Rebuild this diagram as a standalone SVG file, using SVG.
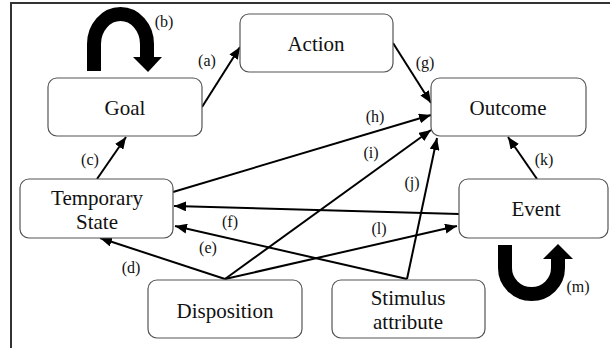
<svg xmlns="http://www.w3.org/2000/svg" width="610" height="348" viewBox="0 0 610 348" font-family="Liberation Serif, Times New Roman, Times, serif">
<style>
.box{fill:#fff;stroke:#555;stroke-width:1.2}
.nt{font-size:21px;fill:#111;text-anchor:middle}
.lb{font-size:16px;fill:#111;text-anchor:middle}
.ed{stroke:#000;stroke-width:2;fill:none;marker-end:url(#ah)}
.thick{stroke:#000;stroke-width:14;fill:none}
</style>
<defs>
<marker id="ah" markerUnits="userSpaceOnUse" markerWidth="12" markerHeight="10" refX="12" refY="5" orient="auto">
<path d="M0,0 L12,5 L0,10 z" fill="#000"/>
</marker>
</defs>
<rect width="610" height="348" fill="#fff"/>
<path d="M11,348 L11,3 L610,3" stroke="#333" stroke-width="2" fill="none"/>
<g id="connectors">
<line class="ed" x1="202" y1="107" x2="240" y2="47"/>
<line class="ed" x1="97" y1="179" x2="126" y2="137"/>
<line class="ed" x1="393" y1="43" x2="431" y2="103"/>
<line class="ed" x1="173" y1="192" x2="431" y2="115"/>
<line class="ed" x1="225" y1="279" x2="431" y2="130"/>
<line class="ed" x1="407" y1="279" x2="437" y2="138"/>
<line class="ed" x1="537" y1="179" x2="508" y2="137"/>
<line class="ed" x1="459" y1="214" x2="174" y2="206"/>
<line class="ed" x1="407" y1="279" x2="175" y2="226"/>
<line class="ed" x1="225" y1="279" x2="100" y2="238"/>
<line class="ed" x1="225" y1="279" x2="457" y2="226"/>
<path class="thick" d="M94,71 L94,44 A26.5,30 0 0 1 147,44 L147,58"/>
<polygon points="133,57 162,57 148,72" fill="#000"/>
<path class="thick" d="M505,245 L505,268 A26.5,26 0 0 0 558,268 L558,258"/>
<polygon points="543,259 573,259 558,244" fill="#000"/>
<text class="lb" x="207" y="66">(a)</text>
<text class="lb" x="164" y="27">(b)</text>
<text class="lb" x="90" y="165">(c)</text>
<text class="lb" x="131" y="273">(d)</text>
<text class="lb" x="208" y="253">(e)</text>
<text class="lb" x="230" y="227">(f)</text>
<text class="lb" x="425" y="68">(g)</text>
<text class="lb" x="375" y="122">(h)</text>
<text class="lb" x="371" y="158">(i)</text>
<text class="lb" x="412" y="188">(j)</text>
<text class="lb" x="544" y="165">(k)</text>
<text class="lb" x="379" y="234">(l)</text>
<text class="lb" x="578" y="292">(m)</text>
</g>
<g id="action"><rect class="box" x="240" y="14" width="153" height="58" rx="9"/><text class="nt" x="316" y="51">Action</text></g>
<g id="goal"><rect class="box" x="48" y="78" width="154" height="58" rx="9"/><text class="nt" x="125" y="115">Goal</text></g>
<g id="outcome"><rect class="box" x="431" y="78" width="155" height="58" rx="9"/><text class="nt" x="508" y="115">Outcome</text></g>
<g id="temporary-state"><rect class="box" x="20" y="179" width="153" height="59" rx="9"/><text class="nt" x="97" y="205">Temporary</text><text class="nt" x="97" y="229">State</text></g>
<g id="event"><rect class="box" x="459" y="179" width="149" height="59" rx="9"/><text class="nt" x="536" y="216">Event</text></g>
<g id="disposition"><rect class="box" x="148" y="280" width="154" height="58" rx="9"/><text class="nt" x="225" y="318">Disposition</text></g>
<g id="stimulus-attribute"><rect class="box" x="332" y="280" width="153" height="58" rx="9"/><text class="nt" x="408" y="305">Stimulus</text><text class="nt" x="408" y="329">attribute</text></g>
</svg>
